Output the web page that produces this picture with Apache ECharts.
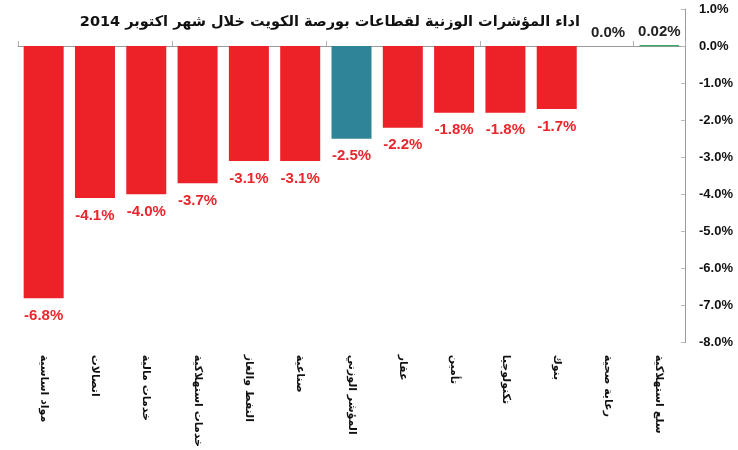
<!DOCTYPE html>
<html><head><meta charset="utf-8">
<script src="https://cdn.jsdelivr.net/npm/echarts@6/dist/echarts.min.js"></script>
<style>html,body{margin:0;padding:0;background:#fff}#c{width:738px;height:450px}</style>
</head><body><div id="c"></div>
<script>
const titleText = 'اداء المؤشرات الوزنية لقطاعات بورصة الكويت خلال شهر اكتوبر 2014';
const categories = ['مواد اساسية','اتصالات','خدمات مالية','خدمات استهلاكية','النفط والغاز','صناعية','المؤشر الوزني','عقار','تأمين','تكنولوجيا','بنوك','رعاية صحية','سلع استهلاكية'];
const values = [-6.8,-4.1,-4.0,-3.7,-3.1,-3.1,-2.5,-2.2,-1.8,-1.8,-1.7,0.0,0.02];
const colors = ['#ed2128','#ed2128','#ed2128','#ed2128','#ed2128','#ed2128','#2f8497','#ed2128','#ed2128','#ed2128','#ed2128','#ed2128','#3aa86b'];
const labelColors = ['#e8262b','#e8262b','#e8262b','#e8262b','#e8262b','#e8262b','#e8262b','#e8262b','#e8262b','#e8262b','#e8262b','#222','#222'];
const yMin = -8, yMax = 1, yStep = 1;

function fmt(v){ return (v !== 0 && Math.abs(v) < 0.1 ? v.toFixed(2) : v.toFixed(1)) + '%'; }

const chart = echarts.init(document.getElementById('c'), null, {renderer:'canvas'});
chart.setOption({
  animation:false,
  title:{ text:titleText, right:153, top:10,
    textStyle:{fontFamily:'DejaVu Sans', fontWeight:'bold', fontSize:14.5, color:'#111'} },
  grid:{ left:18, right:53, top:9, bottom:106 },
  xAxis:[{
    type:'category', data:categories, position:'bottom',
    axisLine:{ onZero:true, lineStyle:{color:'#9a9a9a', width:1} },
    axisTick:{ show:true, inside:true, length:5, lineStyle:{color:'#b0b0b0'} },
    axisLabel:{ show:false }, splitLine:{show:false}
  },{
    type:'category', data:categories, position:'bottom',
    axisLine:{ show:false, onZero:false }, axisTick:{show:false},
    axisLabel:{ show:true, interval:0, rotate:-90, margin:12,
      fontFamily:'DejaVu Sans', fontWeight:'bold', fontSize:11, color:'#111' }
  }],
  yAxis:{
    type:'value', position:'right', min:yMin, max:yMax, interval:yStep,
    axisLine:{ show:true, lineStyle:{color:'#9a9a9a'} },
    axisTick:{ show:true, inside:true, length:4, lineStyle:{color:'#bbb'} },
    splitLine:{ show:false },
    axisLabel:{ formatter:v=>v.toFixed(1)+'%', margin:14, fontFamily:'Liberation Sans', fontWeight:'bold', fontSize:13, color:'#111' }
  },
  series:[{
    type:'bar', xAxisIndex:0, barWidth:40,
    data: values.map((v,i)=>({
      value:v,
      itemStyle:{ color:colors[i], borderColor: v>0 ? colors[i] : 'transparent', borderWidth: v>0 ? 1 : 0 },
      label:{ show:true, position: v<0 ? 'bottom' : 'top', distance: v<0 ? 10 : 6,
        color:labelColors[i], fontFamily:'Liberation Sans', fontWeight:'bold', fontSize:15,
        formatter:()=>fmt(v) }
    }))
  }]
});
</script></body></html>
